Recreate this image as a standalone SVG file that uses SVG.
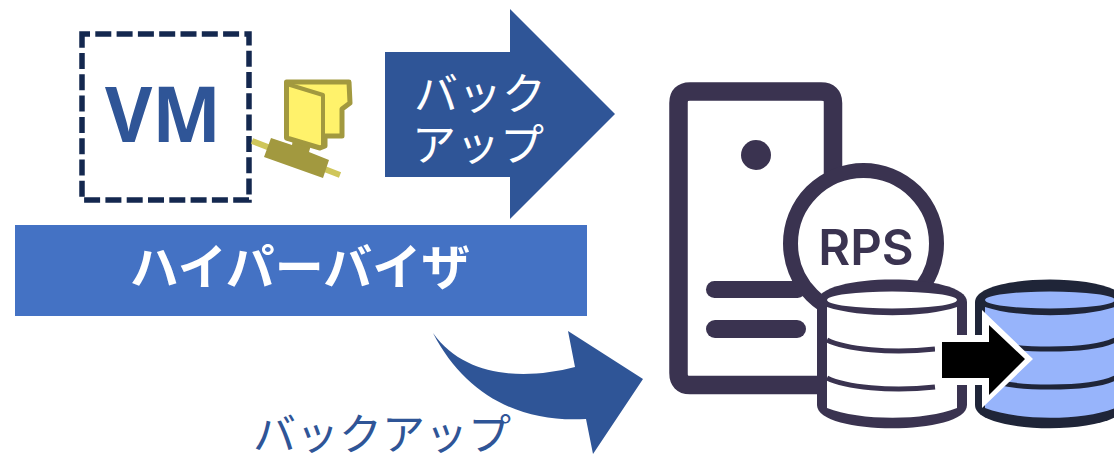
<svg xmlns="http://www.w3.org/2000/svg" width="1114" height="455" viewBox="0 0 1114 455">
<style>
.jp{font-family:"Noto Sans CJK JP","Noto Sans",sans-serif}
.lab{font-size:44px;fill:#fff;font-weight:400}
.srv{fill:none;stroke:#3a3350;stroke-linejoin:round}
.mid{fill:none;stroke-width:5}
</style>
<g id="vm">
<rect x="82" y="34" width="167" height="166" fill="#fff" stroke="#14284f" stroke-width="5.5" stroke-dasharray="16 5.3" stroke-dashoffset="8"/>
<text x="105" y="142" textLength="116" lengthAdjust="spacingAndGlyphs" font-family="Open Sans,sans-serif" font-weight="700" font-size="77" fill="#2f5597">VM</text>
</g>
<g id="disk">
<path d="M252 141L340 175" stroke="#cfc65a" stroke-width="6" fill="none"/>
<path d="M271 138L292 145L293 139L311 145L309 152L329 160L323 178L264 157Z" fill="#a2993f"/>
<path d="M286.500 82L349 82L350 103L342 109L342 136L325 136L325 146L320 148L286.500 138Z" fill="#fff26b" stroke="#a2993f" stroke-width="5" stroke-linejoin="round"/>
<path d="M287 84L323 95L323 146" fill="none" stroke="#a2993f" stroke-width="4" stroke-linejoin="round"/>
</g>
<g id="backup-big">
<path d="M385 52H510V9L615 114L510 219V177H385Z" fill="#2f5597"/>
<text class="jp lab" x="480" y="110" text-anchor="middle">バック</text>
<text class="jp lab" x="478" y="161" text-anchor="middle">アップ</text>
</g>
<g id="hypervisor">
<rect x="15" y="225" width="572" height="91" fill="#4472c4"/>
<text class="jp" x="300" y="285" text-anchor="middle" font-size="49" font-weight="700" fill="#fff">ハイパーバイザ</text>
</g>
<g id="connectors">
<path d="M433 333C465 378 525 380 575 367L568 331L643 379L593 454L586 419C520 423 465 395 433 333Z" fill="#2f5597"/>
</g>
<text id="backup-label" class="jp" x="382" y="450" text-anchor="middle" font-size="43" font-weight="400" fill="#2f5597">バックアップ</text>
<g id="server">
<path d="M818 385H690Q678.500 385 678.500 373V103Q678.500 91.500 690 91.500H821Q833 91.500 833 103V220" class="srv" stroke-width="18.500"/>
<circle cx="756" cy="155" r="15" fill="#3a3350"/>
<rect x="706" y="281" width="100" height="17" rx="8.500" fill="#3a3350"/>
<rect x="706" y="320" width="100" height="18" rx="9" fill="#3a3350"/>
<circle cx="863.500" cy="243.500" r="73" fill="#fff" stroke="#3a3350" stroke-width="15"/>
<text x="866" y="265" text-anchor="middle" font-family="Inter,Open Sans,sans-serif" font-weight="600" font-size="49" fill="#3a3350">RPS</text>
</g>
<g id="db-rps">
<path d="M817 302C817 272 967 272 967 302V405C967 436 817 436 817 405Z" fill="#3a3350"/>
<path d="M827 307C860 318 925 318 957 307V408C925 421 860 421 827 408Z" fill="#fff"/>
<ellipse cx="892" cy="300" rx="65" ry="8.500" fill="#fff"/>
<path class="mid" d="M827 340C845 349 890 354 935 349M827 378C845 387 890 392 935 387" stroke="#3a3350"/>
</g>
<g id="db-copy">
<path d="M975 302C975 272 1125 272 1125 302V405C1125 436 975 436 975 405Z" fill="#1f2538"/>
<path d="M985 307C1018 318 1083 318 1115 307V408C1083 421 1018 421 985 408Z" fill="#97b4fb"/>
<ellipse cx="1050" cy="300" rx="65" ry="8.500" fill="#97b4fb"/>
<path class="mid" d="M985 340C1010 352 1090 352 1115 340M985 378C1010 390 1090 390 1115 378" stroke="#1f2538"/>
</g>
<g id="copy-arrow">
<path d="M935 335H982V310L1033 359L982 408V385H935Z" fill="#fff"/>
<path d="M942 342H989V325L1025 359L989 395V378H942Z" fill="#000"/>
</g>
</svg>
